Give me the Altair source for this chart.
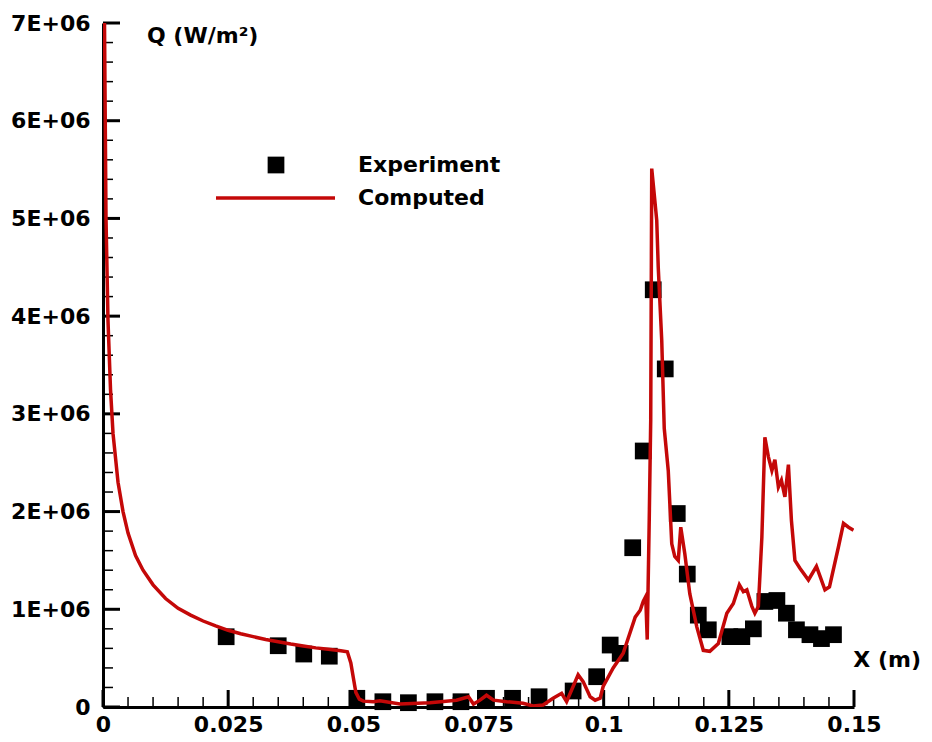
import altair as alt
import pandas as pd

# ---------------- data ----------------
# Experiment (x in m, Q in MW/m^2)
exp_x = [0.0246, 0.0350, 0.0401, 0.0452, 0.0507, 0.0559, 0.0610, 0.0663, 0.0715,
         0.0766, 0.0818, 0.0871, 0.0939, 0.0986, 0.1013, 0.1033, 0.1058, 0.1079,
         0.1099, 0.1123, 0.1147, 0.1167, 0.1189, 0.1209, 0.1252, 0.1276, 0.1299,
         0.1322, 0.1346, 0.1365, 0.1385, 0.1412, 0.1435, 0.1459]
exp_q = [0.719, 0.627, 0.542, 0.520, 0.089, 0.054, 0.044, 0.054, 0.054,
         0.089, 0.089, 0.105, 0.164, 0.310, 0.634, 0.549, 1.630, 2.620,
         4.270, 3.460, 1.980, 1.360, 0.940, 0.790, 0.720, 0.720, 0.800,
         1.080, 1.090, 0.960, 0.790, 0.740, 0.700, 0.740]

# Computed (x in m, Q in MW/m^2)
comp_x = [0.0001, 0.0003, 0.0006, 0.001, 0.0015, 0.002, 0.003, 0.004, 0.005, 0.0065,
          0.008, 0.010, 0.0125, 0.015, 0.0175, 0.020, 0.0225, 0.025, 0.0275, 0.030,
          0.0325, 0.035, 0.0375, 0.040, 0.0425, 0.045, 0.0475, 0.0488, 0.0495, 0.0500,
          0.0505, 0.0512, 0.0520, 0.0540, 0.0553, 0.0593, 0.0653, 0.0706, 0.0730, 0.0740,
          0.0753, 0.0766, 0.0780, 0.0806, 0.0839, 0.0859, 0.0879, 0.0899, 0.0916, 0.0926,
          0.0949, 0.0959, 0.0973, 0.0983, 0.0993, 0.0999, 0.1019, 0.1039, 0.1063, 0.1073,
          0.1079, 0.1084, 0.1087, 0.1091, 0.1094, 0.1096, 0.1100, 0.1106, 0.1109, 0.1116,
          0.1121, 0.1129, 0.1136, 0.1142, 0.1149, 0.1154, 0.1162, 0.1172, 0.1186, 0.1199,
          0.1212, 0.1229, 0.1246, 0.1259, 0.1271, 0.1279, 0.1286, 0.1296, 0.1302, 0.1309,
          0.1316, 0.1322, 0.1329, 0.1336, 0.1342, 0.1349, 0.1355, 0.1362, 0.1369, 0.1375,
          0.1382, 0.1392, 0.1409, 0.1425, 0.1442, 0.1451, 0.1469, 0.1479, 0.1489, 0.1499]
comp_q = [9.00, 7.00, 5.00, 3.95, 3.25, 2.80, 2.30, 2.00, 1.78, 1.55,
          1.40, 1.25, 1.11, 1.01, 0.94, 0.88, 0.83, 0.785, 0.75, 0.72,
          0.69, 0.668, 0.645, 0.625, 0.605, 0.59, 0.575, 0.565, 0.45, 0.30,
          0.15, 0.08, 0.06, 0.055, 0.064, 0.03, 0.044, 0.07, 0.105, 0.03,
          0.07, 0.12, 0.07, 0.054, 0.038, 0.01, 0.02, 0.089, 0.14, 0.054,
          0.33, 0.26, 0.105, 0.07, 0.09, 0.21, 0.40, 0.55, 0.92, 0.99,
          1.08, 1.13, 0.69, 1.91, 2.94, 5.51, 5.30, 4.98, 4.50, 3.75,
          2.85, 2.42, 1.67, 1.54, 1.50, 1.84, 1.57, 1.16, 0.82, 0.58,
          0.57, 0.65, 0.96, 1.06, 1.25, 1.18, 1.20, 1.03, 0.96, 1.03,
          1.74, 2.76, 2.56, 2.42, 2.53, 2.25, 2.32, 2.15, 2.48, 1.91,
          1.50, 1.42, 1.30, 1.44, 1.20, 1.23, 1.64, 1.88, 1.84, 1.81]

x_major = [0, 0.025, 0.05, 0.075, 0.1, 0.125, 0.15]
x_minor = [0.005, 0.01, 0.015, 0.02, 0.03, 0.035, 0.04, 0.045, 0.055, 0.06, 0.065, 0.07,
           0.08, 0.085, 0.09, 0.095, 0.105, 0.11, 0.115, 0.12, 0.13, 0.135, 0.14, 0.145]
y_major = [0, 1e6, 2e6, 3e6, 4e6, 5e6, 6e6, 7e6]
y_minor = [v * 2e5 for v in range(1, 35) if v % 5 != 0]

y_title = "Q (W/m²)"
x_title = "X (m)"
legend_labels = ["Experiment", "Computed"]

RED = "#c40808"
FONT = "DejaVu Sans"
FS = 22

W, H = 751, 684

exp_df = pd.DataFrame({"x": exp_x, "y": [q * 1e6 for q in exp_q]})
comp_df = pd.DataFrame({"x": comp_x, "y": [q * 1e6 for q in comp_q]})

xscale = alt.Scale(domain=[0, 0.15], nice=False, zero=False)
yscale = alt.Scale(domain=[0, 7e6], nice=False, zero=False)

xaxis = alt.Axis(values=x_major, labelExpr="format(datum.value, '~g')", title=None,
                 grid=False, ticks=False, tickSize=0, domainColor="black", domainWidth=3,
                 labelFont=FONT, labelFontWeight="bold", labelFontSize=FS, labelColor="black",
                 labelPadding=7, labelFlush=False, labelOverlap=False, labelBound=False)
yaxis = alt.Axis(values=y_major,
                 labelExpr="datum.value == 0 ? '0' : format(datum.value / 1000000, 'd') + 'E+06'",
                 title=None, grid=False, ticks=False, tickSize=0, domainColor="black",
                 domainWidth=3, labelFont=FONT, labelFontWeight="bold", labelFontSize=FS,
                 labelColor="black", labelPadding=13, labelFlush=False, labelOverlap=False,
                 labelBound=False)

X = lambda: alt.X("x:Q", scale=xscale, axis=xaxis)
Y = lambda: alt.Y("y:Q", scale=yscale, axis=yaxis)

# tick marks drawn inward
xmaj = alt.Chart(pd.DataFrame({"x": x_major})).mark_rule(color="black", strokeWidth=3).encode(
    x=X(), y=alt.value(H), y2=alt.value(H - 17))
xmin = alt.Chart(pd.DataFrame({"x": x_minor})).mark_rule(color="black", strokeWidth=1.5).encode(
    x=X(), y=alt.value(H), y2=alt.value(H - 10))
ymaj = alt.Chart(pd.DataFrame({"y": y_major})).mark_rule(color="black", strokeWidth=3).encode(
    y=Y(), x=alt.value(0), x2=alt.value(17))
ymin = alt.Chart(pd.DataFrame({"y": y_minor})).mark_rule(color="black", strokeWidth=1.5).encode(
    y=Y(), x=alt.value(0), x2=alt.value(10))

points = alt.Chart(exp_df).mark_point(shape="square", filled=True, color="black",
                                      size=280, opacity=1).encode(x=X(), y=Y())

line = alt.Chart(comp_df).mark_line(color=RED, strokeWidth=3.5, clip=True).encode(
    x=X(), y=Y())

def label(txt, px, py, align="left"):
    return alt.Chart(pd.DataFrame({"t": [txt]})).mark_text(
        font=FONT, fontWeight="bold", fontSize=FS, color="black", align=align,
        baseline="middle").encode(x=alt.value(px), y=alt.value(py), text="t:N")

ylab = label(y_title, 44, 13)
xlab = label(x_title, 818, 637, align="right")

leg_sq = alt.Chart(pd.DataFrame({"k": [legend_labels[0]]})).mark_point(
    shape="square", filled=True, color="black", size=280, opacity=1).encode(
    x=alt.value(173), y=alt.value(142))
leg_ln = alt.Chart(pd.DataFrame({"k": [legend_labels[1]]})).mark_rule(
    color=RED, strokeWidth=3.5).encode(x=alt.value(113), x2=alt.value(232), y=alt.value(175))
leg_t1 = label(legend_labels[0], 255, 142)
leg_t2 = label(legend_labels[1], 255, 175)

chart = alt.layer(ymaj, ymin, xmaj, xmin, points, line, ylab, xlab,
                  leg_sq, leg_ln, leg_t1, leg_t2).properties(
    width=W, height=H,
    padding={"left": 95, "top": 15, "right": 70, "bottom": 35},
    autosize=alt.AutoSizeParams(type="none"),
    background="white",
).configure_view(stroke=None)

chart.save("out.html", embed_options={"renderer": "svg", "actions": False})
